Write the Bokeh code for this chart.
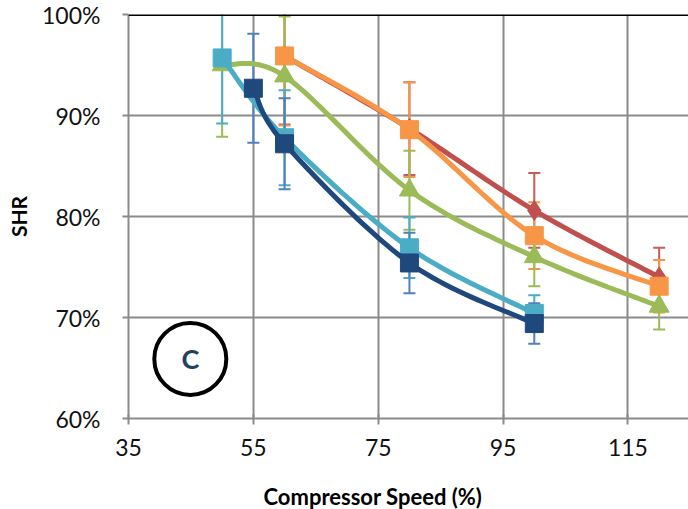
import numpy as np
from bokeh.plotting import figure
from bokeh.models import Span, FixedTicker, NumeralTickFormatter, Label, Title
from bokeh.embed import file_html
from bokeh.resources import INLINE

# ---- data ----
red_x = [60, 80, 100, 120]
red_y = [0.959, 0.887, 0.806, 0.740]
red_err = [0.068, 0.046, 0.037, 0.029]

orange_x = [60, 80, 100, 120]
orange_y = [0.959, 0.886, 0.781, 0.731]
orange_err = [0.069, 0.047, 0.033, 0.026]

green_x = [50, 60, 80, 100, 120]
green_y = [0.950, 0.939, 0.826, 0.760, 0.711]
green_err = [0.071, 0.059, 0.039, 0.029, 0.023]

lblue_x = [50, 60, 80, 100]
lblue_y = [0.957, 0.878, 0.769, 0.704]
lblue_err = [0.065, 0.047, 0.030, 0.018]

dblue_x = [55, 60, 80, 100]
dblue_y = [0.927, 0.872, 0.754, 0.694]
dblue_err = [0.054, 0.045, 0.030, 0.020]

x_ticks = [35, 55, 75, 95, 115]
y_ticks = [0.6, 0.7, 0.8, 0.9, 1.0]

FONT = "Lato"

p = figure(width=688, height=509, output_backend="svg", toolbar_location=None,
           x_range=(35, 124.7), y_range=(0.6, 1.0),
           min_border_left=128, min_border_right=0, min_border_top=14,
           min_border_bottom=91)
p.outline_line_color = None
p.background_fill_color = "white"
p.border_fill_color = "white"

for ax in (p.xaxis[0], p.yaxis[0]):
    ax.axis_line_color = "#8B8B8B"
    ax.axis_line_width = 2
    ax.major_tick_line_color = "#8B8B8B"
    ax.major_tick_line_width = 2
    ax.minor_tick_line_color = None
    ax.major_label_text_font = FONT
    ax.major_label_text_font_size = "23px"
    ax.major_label_text_color = "#111111"
    ax.axis_label_text_font = FONT
    ax.axis_label_text_font_style = "bold"
    ax.axis_label_text_font_size = "21px"
    ax.axis_label_text_color = "black"

p.xaxis.ticker = FixedTicker(ticks=x_ticks)
p.yaxis.ticker = FixedTicker(ticks=y_ticks)
p.yaxis.formatter = NumeralTickFormatter(format="0%")
p.yaxis.axis_label = "SHR"
p.xaxis.major_tick_out = 6
p.xaxis.major_tick_in = 4
p.yaxis.major_tick_out = 6
p.yaxis.major_tick_in = 0
p.xaxis.major_label_standoff = 14
p.yaxis.major_label_standoff = 22
p.yaxis.axis_label_standoff = 8
# small invisible spacer below the tick labels
p.xaxis.axis_label = "\u00a0"
p.xaxis.axis_label_text_font_size = "8px"
p.xaxis.axis_label_standoff = 9

p.xgrid.ticker = FixedTicker(ticks=x_ticks)
p.ygrid.ticker = FixedTicker(ticks=y_ticks)
p.grid.grid_line_color = "#8B8B8B"
p.grid.grid_line_width = 2

p.add_layout(Span(location=1.0, dimension="width", line_color="black", line_width=3))

# x-axis title (placed left of frame centre, as in the reference)
p.add_layout(Title(text="Compressor Speed (%)", align="left", offset=135, standoff=0,
                   text_font=FONT, text_font_style="bold", text_font_size="22px",
                   text_color="black"), "below")

SX, SY = 6.24, 1010.0


def smooth(xs, ys, n=24):
    pts = np.column_stack([np.asarray(xs, float) * SX, np.asarray(ys, float) * SY])
    out = [pts[0]]
    m = len(pts)
    for i in range(m - 1):
        p0 = pts[i - 1] if i > 0 else pts[i]
        p1 = pts[i]
        p2 = pts[i + 1]
        p3 = pts[i + 2] if i + 2 < m else pts[i + 1]
        c1 = p1 + (p2 - p0) / 6.0
        c2 = p2 - (p3 - p1) / 6.0
        t = np.linspace(0, 1, n)[1:, None]
        seg = ((1 - t) ** 3) * p1 + 3 * ((1 - t) ** 2) * t * c1 + 3 * (1 - t) * t ** 2 * c2 + t ** 3 * p2
        out.extend(seg)
    out = np.array(out)
    return out[:, 0] / SX, out[:, 1] / SY


series = [
    (red_x, red_y, red_err, "#C0504D", "#C65B58", "diamond", 20),
    (orange_x, orange_y, orange_err, "#F79646", "#F79646", "square", 18),
    (green_x, green_y, green_err, "#9BBB59", "#9BBB59", "triangle", 20),
    (lblue_x, lblue_y, lblue_err, "#4BACC6", "#4BACC6", "square", 18),
    (dblue_x, dblue_y, dblue_err, "#1F497D", "#4F81BD", "square", 18),
]

# error bars
for xs, ys, errs, col, ecol, mk, sz in series:
    up = [y + e for y, e in zip(ys, errs)]
    lo = [y - e for y, e in zip(ys, errs)]
    p.segment(x0=xs, y0=lo, x1=xs, y1=up, line_color=ecol, line_width=2)
    p.scatter(x=xs, y=up, marker="dash", size=12, line_color=ecol, line_width=2)
    p.scatter(x=xs, y=lo, marker="dash", size=12, line_color=ecol, line_width=2)

# lines and markers
for xs, ys, errs, col, ecol, mk, sz in series:
    sx, sy = smooth(xs, ys)
    p.line(sx, sy, line_color=col, line_width=5, line_join="round")
    p.scatter(x=xs, y=ys, marker=mk, size=sz, fill_color=col, line_color=col)

# circled "C"
p.scatter(x=[44.9], y=[0.659], marker="circle", size=72, fill_color=None,
          line_color="black", line_width=4)
p.add_layout(Label(x=44.9, y=0.659, text="C", text_align="center", text_baseline="middle",
                   text_font=FONT, text_font_style="bold", text_font_size="27px",
                   text_color="#243F60"))

open("out.html", "w").write(file_html(p, INLINE))
